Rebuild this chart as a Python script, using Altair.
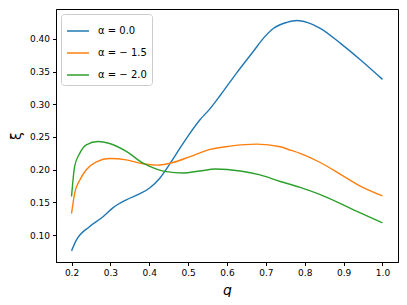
import altair as alt
import pandas as pd

labels = ["α = 0.0", "α = − 1.5", "α = − 2.0"]
colors = ["#1f77b4", "#ff7f0e", "#2ca02c"]

q_blue = [0.20, 0.212, 0.246, 0.281, 0.307, 0.341, 0.375, 0.401, 0.427, 0.453, 0.479,
          0.505, 0.530, 0.556, 0.582, 0.625, 0.668, 0.694, 0.72, 0.754, 0.78, 0.806,
          0.84, 0.892, 0.943, 1.0]
v_blue = [0.076, 0.092, 0.113, 0.128, 0.142, 0.154, 0.163, 0.172, 0.187, 0.209, 0.233,
          0.256, 0.276, 0.293, 0.313, 0.348, 0.381, 0.401, 0.416, 0.425, 0.428, 0.425,
          0.416, 0.393, 0.368, 0.338]

q_orange = [0.20, 0.208, 0.221, 0.238, 0.264, 0.298, 0.341, 0.384, 0.419, 0.461, 0.505,
            0.556, 0.608, 0.677, 0.737, 0.763, 0.788, 0.84, 0.892, 0.943, 1.0]
v_orange = [0.133, 0.164, 0.184, 0.200, 0.212, 0.217, 0.215, 0.209, 0.207, 0.211, 0.220,
            0.231, 0.236, 0.239, 0.235, 0.230, 0.225, 0.211, 0.193, 0.175, 0.160]

q_green = [0.20, 0.208, 0.221, 0.238, 0.268, 0.298, 0.341, 0.384, 0.419, 0.444, 0.487,
           0.530, 0.570, 0.634, 0.685, 0.737, 0.788, 0.84, 0.943, 1.0]
v_green = [0.159, 0.205, 0.225, 0.238, 0.243, 0.240, 0.228, 0.210, 0.201, 0.197, 0.195,
           0.198, 0.201, 0.198, 0.192, 0.182, 0.173, 0.162, 0.134, 0.119]

rows = []
for lab, qs, vs in [(labels[0], q_blue, v_blue), (labels[1], q_orange, v_orange),
                    (labels[2], q_green, v_green)]:
    for q, v in zip(qs, vs):
        rows.append({"q": q, "xi": v, "series": lab})
df = pd.DataFrame(rows)

x_ticks = [0.2, 0.3, 0.4, 0.5, 0.6, 0.7, 0.8, 0.9, 1.0]
y_ticks = [0.10, 0.15, 0.20, 0.25, 0.30, 0.35, 0.40]

chart = alt.Chart(df).mark_line(strokeWidth=1.4, interpolate="monotone").encode(
    x=alt.X("q:Q", scale=alt.Scale(domain=[0.16, 1.04], nice=False, zero=False),
            axis=alt.Axis(values=x_ticks, format=".1f", title="q", titleFontStyle="italic")),
    y=alt.Y("xi:Q", scale=alt.Scale(domain=[0.059, 0.4455], nice=False, zero=False),
            axis=alt.Axis(values=y_ticks, format=".2f", title="ξ")),
    color=alt.Color("series:N", scale=alt.Scale(domain=labels, range=colors),
                    sort=labels,
                    legend=alt.Legend(title=None, orient="none", legendX=5, legendY=5,
                                      symbolType="stroke", symbolSize=480,
                                      symbolStrokeWidth=1.5, labelOffset=8,
                                      labelFontSize=10, labelFont="DejaVu Sans",
                                      labelColor="black",
                                      rowPadding=5, padding=5,
                                      strokeColor="#cccccc", fillColor="white",
                                      cornerRadius=3)),
).properties(
    width=342, height=253,
    autosize=alt.AutoSizeParams(type="none"),
    padding={"left": 48, "top": 1, "right": 1, "bottom": 35},
).configure_axis(
    labelFont="DejaVu Sans", labelFontSize=9, labelColor="black",
    titleFont="DejaVu Sans", titleFontSize=14, titleFontWeight="normal", titleColor="black",
    tickColor="black", tickSize=3.5, domainColor="black", grid=False,
    labelPadding=3,
).configure_axisX(titlePadding=6).configure_axisY(titlePadding=6).configure_view(
    stroke="black", strokeWidth=1
)

chart.save("out.html", embed_options={"renderer": "svg", "actions": False})
